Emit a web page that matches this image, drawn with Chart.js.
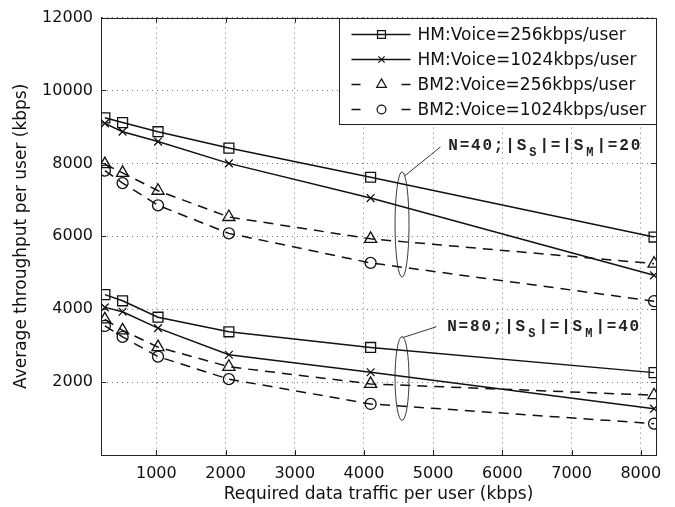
<!DOCTYPE html>
<html>
<head>
<meta charset="utf-8">
<script src="https://cdn.jsdelivr.net/npm/chart.js@4.4.0/dist/chart.umd.min.js"></script>
<style>
  html, body { margin: 0; padding: 0; background: #fff; }
  canvas { display: block; }
</style>
</head>
<body>
<canvas id="throughput_chart" width="675" height="507"></canvas>
<script>
// required data traffic per user (kbps)
var traffic = [256, 512, 1024, 2048, 4096, 8192];

// N=40; |Ss|=|Sm|=20
var hm256N40 = [9250, 9120, 8870, 8420, 7620, 5980];
var hm1024N40 = [9100, 8870, 8600, 8000, 7050, 4930];
var bm256N40 = [7980, 7740, 7250, 6530, 5930, 5250];
var bm1024N40 = [7800, 7460, 6850, 6080, 5270, 4220];

// N=80; |Ss|=|Sm|=40
var hm256N80 = [4400, 4230, 3780, 3380, 2950, 2260];
var hm1024N80 = [4050, 3930, 3480, 2750, 2270, 1270];
var bm256N80 = [3720, 3420, 2960, 2420, 1950, 1640];
var bm1024N80 = [3540, 3240, 2700, 2080, 1400, 860];

var seriesNames = ['HM:Voice=256kbps/user', 'HM:Voice=1024kbps/user', 'BM2:Voice=256kbps/user', 'BM2:Voice=1024kbps/user'];

var xTicks = [1000, 2000, 3000, 4000, 5000, 6000, 7000, 8000];
var yTicks = [2000, 4000, 6000, 8000, 10000, 12000];

// group annotations (data units): ellipse x, ellipse y-range, leader line, label
var groupLabels = ['N=40;|S_S|=|S_M|=20', 'N=80;|S_S|=|S_M|=40'];
var ellipseX = [4550, 4550];
var ellipseY = [[4880, 7770], [950, 3250]];
var leaderFrom = [[4590, 7660], [4560, 3220]];
var leaderTo = [[5105, 8450], [5047, 3520]];
var labelAt = [[5205, 8490], [5190, 3520]];

var FONT = "'DejaVu Sans', sans-serif";

function toPoints(ys) {
    return traffic.map(function(x, i) { return {x: x, y: ys[i]}; });
}

var markerSize = {rect: 7, crossRot: 5.5, triangle: 7, circle: 5.5};

function series(label, values, marker, dashed) {
    return {
        label: label,
        data: toPoints(values),
        borderColor: '#111',
        borderWidth: 1.5,
        borderDash: dashed ? [10, 7] : [],
        pointStyle: marker,
        pointRadius: markerSize[marker],
        pointBorderColor: '#111',
        pointBackgroundColor: 'rgba(0,0,0,0)',
        pointBorderWidth: 1.3,
        tension: 0
    };
}

// inner tick marks + box around the axes
var framePlugin = {
    id: 'frame',
    beforeDatasetsDraw: function(chart) {
        var ctx = chart.ctx, a = chart.chartArea;
        var xs = chart.scales.x, ys = chart.scales.y;
        ctx.save();
        ctx.strokeStyle = '#222';
        ctx.lineWidth = 1;
        ctx.beginPath();
        xTicks.forEach(function(v) {
            var px = Math.round(xs.getPixelForValue(v)) + 0.5;
            ctx.moveTo(px, a.bottom); ctx.lineTo(px, a.bottom - 5);
            ctx.moveTo(px, a.top); ctx.lineTo(px, a.top + 5);
        });
        yTicks.forEach(function(v) {
            var py = Math.round(ys.getPixelForValue(v)) + 0.5;
            ctx.moveTo(a.left, py); ctx.lineTo(a.left + 5, py);
            ctx.moveTo(a.right, py); ctx.lineTo(a.right - 5, py);
        });
        ctx.stroke();
        ctx.strokeRect(Math.round(a.left) + 0.5, Math.round(a.top) + 0.5, Math.round(a.right - a.left), Math.round(a.bottom - a.top));
        ctx.restore();
    }
};

function drawLabel(ctx, text, x, y) {
    var pitch = 11.4;
    var sub = false;
    ctx.fillStyle = '#222';
    ctx.textAlign = 'center';
    ctx.textBaseline = 'middle';
    for (var i = 0; i < text.length; i++) {
        var c = text[i];
        if (c === '_') { sub = true; continue; }
        if (sub) {
            ctx.font = "bold 12px 'Liberation Mono', monospace";
            ctx.fillText(c, x + pitch / 2, y + 7);
        } else {
            ctx.font = "bold 16px 'Liberation Mono', monospace";
            ctx.fillText(c, x + pitch / 2, y);
        }
        sub = false;
        x += pitch;
    }
}

var annotationPlugin = {
    id: 'groups',
    afterDatasetsDraw: function(chart) {
        var ctx = chart.ctx;
        var xs = chart.scales.x, ys = chart.scales.y;
        ctx.save();
        ctx.strokeStyle = '#222';
        ctx.lineWidth = 0.9;
        for (var g = 0; g < groupLabels.length; g++) {
            var cx = xs.getPixelForValue(ellipseX[g]);
            var top = ys.getPixelForValue(ellipseY[g][1]);
            var bottom = ys.getPixelForValue(ellipseY[g][0]);
            ctx.beginPath();
            ctx.ellipse(cx, (top + bottom) / 2, 7, (bottom - top) / 2, 0, 0, Math.PI * 2);
            ctx.stroke();
            ctx.beginPath();
            ctx.moveTo(xs.getPixelForValue(leaderFrom[g][0]), ys.getPixelForValue(leaderFrom[g][1]));
            ctx.lineTo(xs.getPixelForValue(leaderTo[g][0]), ys.getPixelForValue(leaderTo[g][1]));
            ctx.stroke();
            drawLabel(ctx, groupLabels[g], xs.getPixelForValue(labelAt[g][0]), ys.getPixelForValue(labelAt[g][1]));
        }
        ctx.restore();
    }
};

// MATLAB style legend box in the upper right corner
var legendPlugin = {
    id: 'boxLegend',
    afterDatasetsDraw: function(chart) {
        var ctx = chart.ctx, a = chart.chartArea;
        ctx.save();
        ctx.font = '17px ' + FONT;
        var maxW = 0;
        seriesNames.forEach(function(n) { maxW = Math.max(maxW, ctx.measureText(n).width); });
        var w = Math.round(78 + maxW + 10), h = 106;
        var left = Math.round(a.right - w) + 0.5, top = Math.round(a.top) + 0.5;
        ctx.fillStyle = '#fff';
        ctx.fillRect(left, top, w, h);
        ctx.strokeStyle = '#222';
        ctx.lineWidth = 1;
        ctx.strokeRect(left, top, w, h);
        for (var i = 0; i < seriesNames.length; i++) {
            var ds = chart.data.datasets[i];
            var y = top + 16 + i * 25;
            ctx.strokeStyle = '#111';
            ctx.lineWidth = 1.4;
            ctx.setLineDash([]);
            ctx.beginPath();
            if (ds.borderDash.length) {
                ctx.moveTo(left + 12, y); ctx.lineTo(left + 21, y);
                ctx.moveTo(left + 62, y); ctx.lineTo(left + 71, y);
            } else {
                ctx.moveTo(left + 12, y); ctx.lineTo(left + 71, y);
            }
            ctx.stroke();
            ctx.lineWidth = 1.2;
            ctx.fillStyle = 'rgba(0,0,0,0)';
            Chart.helpers.drawPoint(ctx, {pointStyle: ds.pointStyle, radius: ds.pointRadius * 0.8, borderWidth: 1.2, rotation: 0}, left + 42, y);
            ctx.fillStyle = '#111';
            ctx.textAlign = 'left';
            ctx.textBaseline = 'middle';
            ctx.font = '17px ' + FONT;
            ctx.fillText(seriesNames[i], left + 78, y + 1);
        }
        ctx.restore();
    }
};

function plainTick(value) {
    return String(value);
}

var ctx = document.getElementById('throughput_chart');
var throughputChart = new Chart(ctx, {
    type: 'line',
    data: {
        datasets: [
            series(seriesNames[0], hm256N40, 'rect', false),
            series(seriesNames[1], hm1024N40, 'crossRot', false),
            series(seriesNames[2], bm256N40, 'triangle', true),
            series(seriesNames[3], bm1024N40, 'circle', true),
            series(seriesNames[0], hm256N80, 'rect', false),
            series(seriesNames[1], hm1024N80, 'crossRot', false),
            series(seriesNames[2], bm256N80, 'triangle', true),
            series(seriesNames[3], bm1024N80, 'circle', true)
        ]
    },
    options: {
        responsive: false,
        animation: false,
        layout: {
            padding: {top: 12, right: 19, left: 0, bottom: 0}
        },
        plugins: {
            legend: {display: false},
            tooltip: {enabled: false}
        },
        scales: {
            x: {
                type: 'linear',
                min: 200,
                max: 8220,
                afterBuildTicks: function(scale) {
                    scale.ticks = xTicks.map(function(v) { return {value: v}; });
                },
                afterFit: function(scale) { scale.height = 52; },
                grid: {color: '#777', lineWidth: 1, drawTicks: false},
                border: {display: true, color: '#222', width: 1, dash: [1, 4]},
                ticks: {
                    color: '#111',
                    padding: 9,
                    maxRotation: 0,
                    callback: plainTick,
                    font: {family: FONT, size: 16}
                },
                title: {
                    display: true,
                    text: 'Required data traffic per user (kbps)',
                    color: '#111',
                    padding: {top: 0, bottom: 2},
                    font: {family: FONT, size: 17}
                }
            },
            y: {
                type: 'linear',
                min: 0,
                max: 12000,
                afterBuildTicks: function(scale) {
                    scale.ticks = yTicks.map(function(v) { return {value: v}; });
                },
                afterFit: function(scale) { scale.width = 101; },
                grid: {color: '#777', lineWidth: 1, drawTicks: false},
                border: {display: true, color: '#222', width: 1, dash: [1, 4]},
                ticks: {
                    color: '#111',
                    padding: 8,
                    callback: plainTick,
                    font: {family: FONT, size: 16}
                },
                title: {
                    display: true,
                    text: 'Average throughput per user (kbps)',
                    color: '#111',
                    padding: {top: 11, bottom: 0},
                    font: {family: FONT, size: 17}
                }
            }
        }
    },
    plugins: [framePlugin, annotationPlugin, legendPlugin]
});
</script>
</body>
</html>
